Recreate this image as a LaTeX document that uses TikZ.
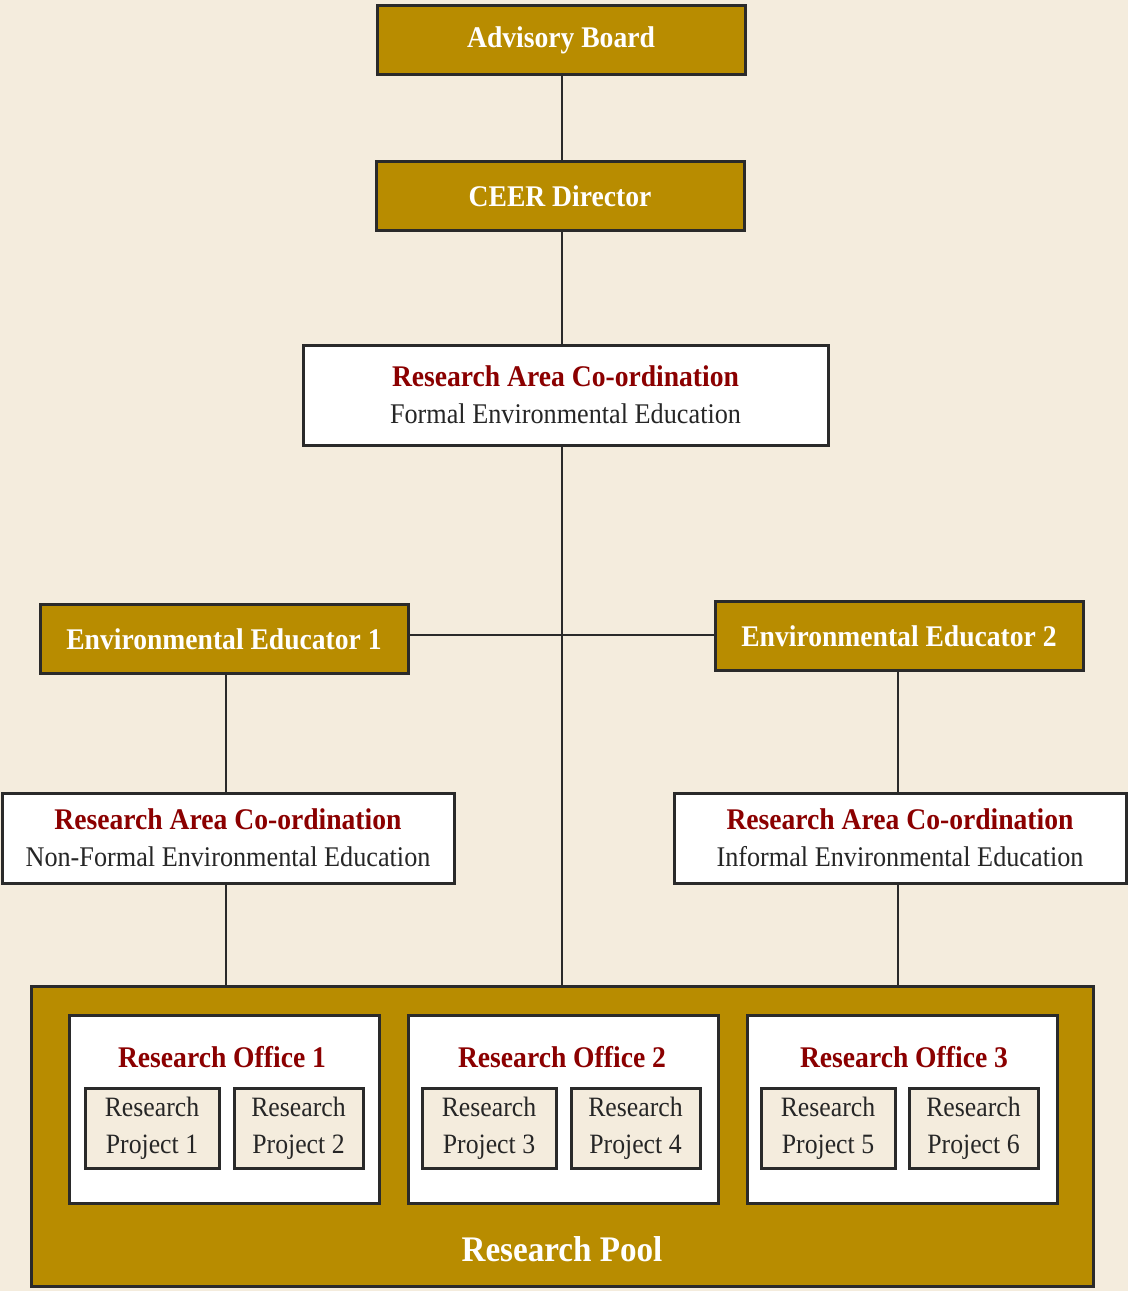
\documentclass[tikz,border=0pt]{standalone}
\usepackage{fontspec}
\setmainfont{Liberation Serif}[FakeStretch=0.92]
\definecolor{bgc}{HTML}{F4ECDD}
\definecolor{goldc}{HTML}{B88C00}
\definecolor{redc}{HTML}{8B0000}
\definecolor{linec}{HTML}{2A2A2A}
\definecolor{txtc}{HTML}{262626}
\tikzset{
  base/.style={draw=linec, line width=3pt, inner sep=0pt, rectangle},
  goldbox/.style={base, fill=goldc, text=white, font=\bfseries\fontsize{30}{34}\selectfont, minimum width=368pt, minimum height=69pt},
  whitebox/.style={base, fill=white, align=center, text=txtc, font=\fontsize{28.5}{37}\selectfont},
  officebox/.style={base, fill=white, minimum width=310pt, minimum height=188pt},
  projbox/.style={base, fill=bgc, align=center, text=txtc, font=\fontsize{28}{37}\selectfont, minimum width=134pt, minimum height=80pt},
  redtitle/.style={text=redc, font=\bfseries\fontsize{30}{34}\selectfont, inner sep=0pt},
  conn/.style={draw=linec, line width=2.6pt},
}
\newcommand{\rt}[1]{{\color{redc}\bfseries\fontsize{30}{37}\selectfont #1}}
\begin{document}
\begin{tikzpicture}[x=1pt,y=-1pt]
\useasboundingbox (0,0) rectangle (1128,1291);
\fill[bgc] (0,0) rectangle (1128,1291);

% research pool
\node[base, fill=goldc, minimum width=1062pt, minimum height=300pt] (pool) at (562,1136) {};
\node[text=white, font=\bfseries\fontsize{36}{40}\selectfont, inner sep=0pt] (pooltxt) at (562,1249) {Research Pool};

% boxes
\coordinate (j) at (562,635);
\node[goldbox] (ab) at (561,40) {Advisory Board};
\node[goldbox] (ceer) at (560,196) {CEER Director};
\node[whitebox, minimum width=525pt, minimum height=100pt] (raf) at (565.5,395) {\rt{Research Area Co-ordination}\\Formal Environmental Education};
\node[goldbox] (ee1) at (224,639) {Environmental Educator 1};
\node[goldbox] (ee2) at (899,636) {Environmental Educator 2};
\node[whitebox, minimum width=452pt, minimum height=90pt] (ran) at (228,838) {\rt{Research Area Co-ordination}\\Non-Formal Environmental Education};
\node[whitebox, minimum width=452pt, minimum height=90pt] (rai) at (900,838) {\rt{Research Area Co-ordination}\\Informal Environmental Education};

% connectors
\draw[conn] (ab.south -| 562,0) -- (ceer.north -| 562,0);
\draw[conn] (ceer.south -| 562,0) -- (raf.north -| 562,0);
\draw[conn] (raf.south -| 562,0) -- (pool.north -| 562,0);
\draw[conn] (ee1.east |- j) -- (ee2.west |- j);
\draw[conn] (ee1.south -| 226,0) -- (ran.north -| 226,0);
\draw[conn] (ee2.south -| 898,0) -- (rai.north -| 898,0);
\draw[conn] (ran.south -| 226,0) -- (pool.north -| 226,0);
\draw[conn] (rai.south -| 898,0) -- (pool.north -| 898,0);

% offices
\node[officebox] (o1) at (224,1109.5) {};
\node[officebox] (o2) at (563,1109) {};
\node[officebox] (o3) at (902,1109) {};
\node[redtitle] (o1t) at (222,1057) {Research Office 1};
\node[redtitle] (o2t) at (562,1057) {Research Office 2};
\node[redtitle] (o3t) at (904,1057) {Research Office 3};

\node[projbox] (p1) at (152,1128) {Research\\Project 1};
\node[projbox, minimum width=129pt] (p2) at (298.5,1128) {Research\\Project 2};
\node[projbox] (p3) at (489,1128) {Research\\Project 3};
\node[projbox, minimum width=129pt] (p4) at (635.5,1128) {Research\\Project 4};
\node[projbox] (p5) at (828,1128) {Research\\Project 5};
\node[projbox, minimum width=129pt] (p6) at (973.5,1128) {Research\\Project 6};
\end{tikzpicture}
\end{document}
